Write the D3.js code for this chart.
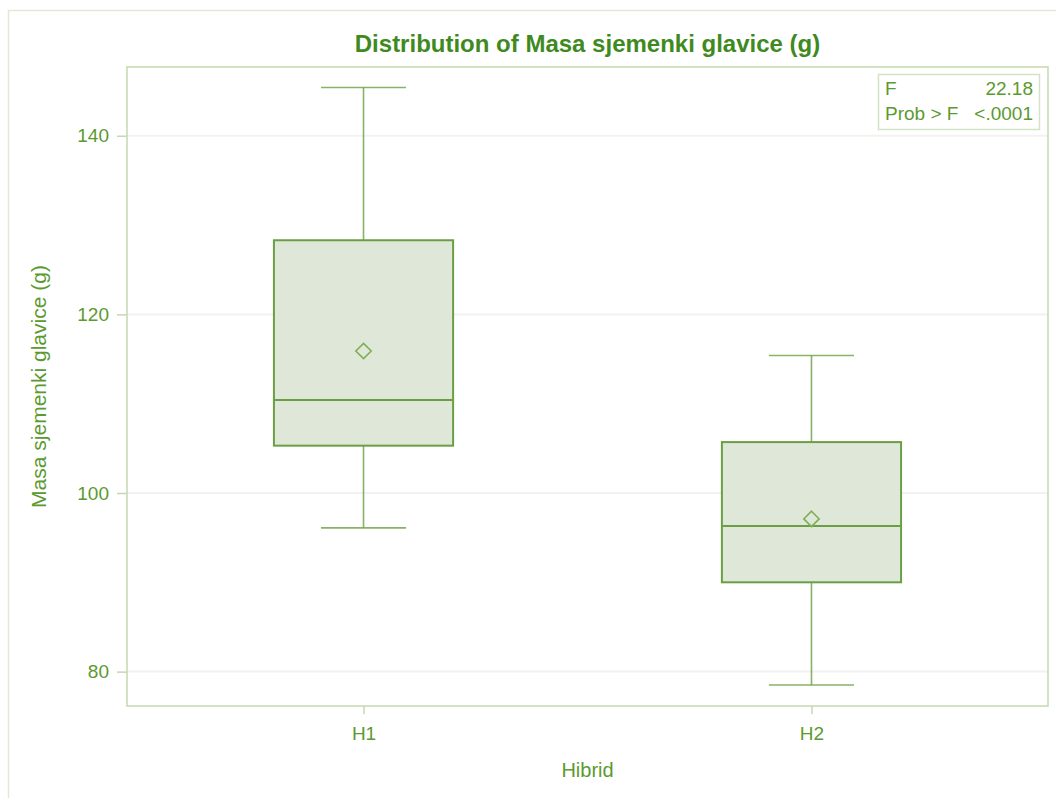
<!DOCTYPE html>
<html>
<head>
<meta charset="utf-8">
<script src="https://cdn.jsdelivr.net/npm/d3@7"></script>
<style>
body{margin:0;background:#fff;}
text{font-family:"Liberation Sans",Arial,sans-serif;}
</style>
</head>
<body>
<svg width="1056" height="798"></svg>
<script>
// data
const groups = ["H1", "H2"];
const whiskLo = [96.1, 78.5];
const q1 = [105.3, 90.0];
const median = [110.4, 96.3];
const q3 = [128.3, 105.7];
const whiskHi = [145.4, 115.4];
const means = [115.9, 97.1];
const yTicks = [80, 100, 120, 140];
const statLabels = ["F", "Prob > F"];
const statValues = ["22.18", "<.0001"];

var svg = d3.select("svg"),
    pLeft = 127, pTop = 67, pRight = 1048, pBottom = 706;
var txt = "#5b9a2f", axisCol = "#c3d9b0", boxCol = "#6b9f43";

// outer frame
svg.append("rect").attr("x", 8.5).attr("y", 10.5).attr("width", 1060).attr("height", 800)
   .attr("fill", "none").attr("stroke", "#dfe9d6").attr("stroke-width", 1.5);

var y = d3.scaleLinear().domain([76.15, 147.7]).range([pBottom, pTop]);
var x = d3.scalePoint().domain(groups).range([pLeft, pRight]).padding(0.528);
var bw = x.step() * 0.4, cw = x.step() * 0.19;

// grid
svg.selectAll(".grid").data(yTicks).enter().append("line")
   .attr("x1", pLeft).attr("x2", pRight)
   .attr("y1", d => y(d)).attr("y2", d => y(d))
   .attr("stroke", "#f2f2f0").attr("stroke-width", 2);

// axes
var ya = svg.append("g").attr("transform", "translate(" + pLeft + ",0)")
   .call(d3.axisLeft(y).tickValues(yTicks).tickSize(10).tickPadding(8));
var xa = svg.append("g").attr("transform", "translate(0," + pBottom + ")")
   .call(d3.axisBottom(x).tickSize(8).tickPadding(13));
[ya, xa].forEach(a => {
  a.select(".domain").remove();
  a.selectAll("line").attr("stroke", axisCol).attr("stroke-width", 1.5);
  a.selectAll("text").attr("fill", txt).style("font-size", "19px")
   .style("font-family", "'Liberation Sans',Arial,sans-serif");
});

// plot frame
svg.append("rect").attr("x", pLeft).attr("y", pTop).attr("width", pRight - pLeft).attr("height", pBottom - pTop)
   .attr("fill", "none").attr("stroke", axisCol).attr("stroke-width", 1.5);

// boxes
var g = svg.selectAll(".box").data(groups).enter().append("g");
g.append("line").attr("x1", d => x(d)).attr("x2", d => x(d))
 .attr("y1", (d, i) => y(whiskHi[i])).attr("y2", (d, i) => y(q3[i]))
 .attr("stroke", boxCol).attr("stroke-opacity", 0.8).attr("stroke-width", 1.6);
g.append("line").attr("x1", d => x(d)).attr("x2", d => x(d))
 .attr("y1", (d, i) => y(q1[i])).attr("y2", (d, i) => y(whiskLo[i]))
 .attr("stroke", boxCol).attr("stroke-opacity", 0.8).attr("stroke-width", 1.6);
[whiskHi, whiskLo].forEach(arr => {
  g.append("line").attr("x1", d => x(d) - cw / 2).attr("x2", d => x(d) + cw / 2)
   .attr("y1", (d, i) => y(arr[i])).attr("y2", (d, i) => y(arr[i]))
   .attr("stroke", boxCol).attr("stroke-opacity", 0.8).attr("stroke-width", 1.6);
});
g.append("rect").attr("x", d => x(d) - bw / 2).attr("width", bw)
 .attr("y", (d, i) => y(q3[i])).attr("height", (d, i) => y(q1[i]) - y(q3[i]))
 .attr("fill", "#dfe8d8").attr("stroke", boxCol).attr("stroke-width", 2);
g.append("line").attr("x1", d => x(d) - bw / 2).attr("x2", d => x(d) + bw / 2)
 .attr("y1", (d, i) => y(median[i])).attr("y2", (d, i) => y(median[i]))
 .attr("stroke", boxCol).attr("stroke-width", 2);
g.append("path").attr("d", d3.symbol(d3.symbolDiamond2, 150))
 .attr("transform", (d, i) => "translate(" + x(d) + "," + y(means[i]) + ")")
 .attr("fill", "none").attr("stroke", "#7fae58").attr("stroke-width", 1.6);

// title and labels
svg.append("text").attr("x", (pLeft + pRight) / 2).attr("y", 52).attr("text-anchor", "middle")
   .attr("fill", "#3f8a1f").style("font-size", "24px").style("font-weight", "bold")
   .text("Distribution of Masa sjemenki glavice (g)");
svg.append("text").attr("x", (pLeft + pRight) / 2).attr("y", 777).attr("text-anchor", "middle")
   .attr("fill", txt).style("font-size", "20px").text("Hibrid");
svg.append("text").attr("transform", "translate(46," + (pTop + pBottom) / 2 + ") rotate(-90)")
   .attr("text-anchor", "middle").attr("fill", txt).style("font-size", "21px")
   .text("Masa sjemenki glavice (g)");

// stats inset
svg.append("rect").attr("x", 878.5).attr("y", 74.5).attr("width", 161).attr("height", 55)
   .attr("fill", "#fff").attr("stroke", "#d3e3c6").attr("stroke-width", 1.5);
svg.selectAll(".sl").data(statLabels).enter().append("text")
   .attr("x", 885).attr("y", (d, i) => 95 + i * 25).attr("fill", txt).style("font-size", "19px").text(d => d);
svg.selectAll(".sv").data(statValues).enter().append("text")
   .attr("x", 1033).attr("y", (d, i) => 95 + i * 25).attr("text-anchor", "end")
   .attr("fill", txt).style("font-size", "19px").text(d => d);
</script>
</body>
</html>
